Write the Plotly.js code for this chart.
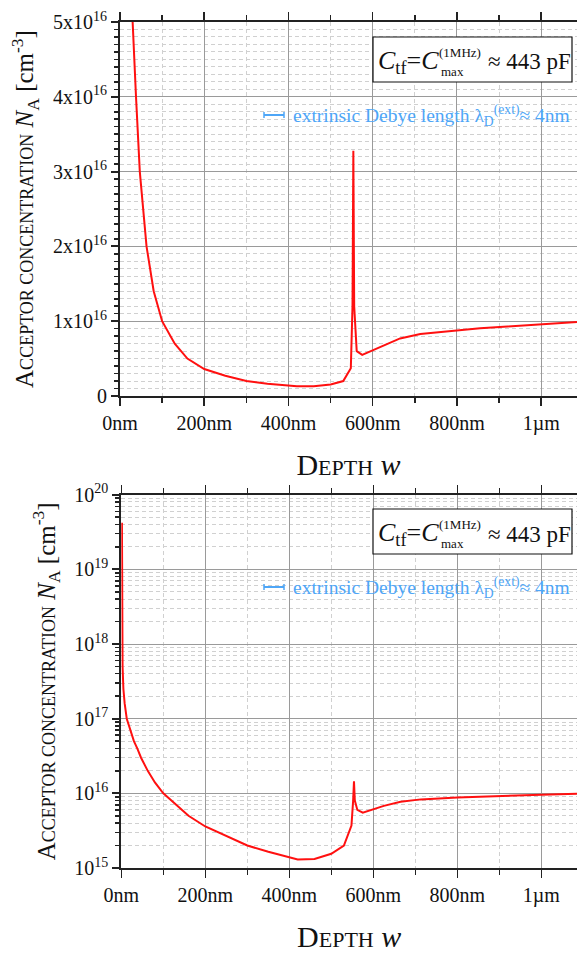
<!DOCTYPE html>
<html>
<head>
<meta charset="utf-8">
<script src="https://cdn.plot.ly/plotly-3.0.1.min.js"></script>
<style>
  html, body { margin: 0; padding: 0; background: #fff; }
  #plot { width: 577px; height: 956px; }
</style>
</head>
<body>
<div id="plot"></div>
<script>
// Acceptor profile from C-V measurement: depth (nm) vs. N_A (cm^-3)
const depthNm = [1.5, 2, 3, 5, 8, 13, 20, 30, 38, 47, 63, 80, 100, 130, 160, 200, 250, 300, 350, 400, 420, 460, 500, 530, 548, 552, 554, 556, 562, 575, 600, 625, 665, 713, 800, 855, 920, 1000, 1085];
// linear panel
const acceptorConc = [4.2e19, 1.5e18, 5e17, 2.5e17, 1.6e17, 1.0e17, 7.5e16, 5.0e16, 4.0e16, 3.0e16, 2.0e16, 1.4e16, 1.0e16, 7.0e15, 5.0e15, 3.6e15, 2.7e15, 2.0e15, 1.65e15, 1.4e15, 1.3e15, 1.32e15, 1.55e15, 2.0e15, 3.7e15, 1.2e16, 3.28e16, 1.2e16, 6.0e15, 5.5e15, 6.1e15, 6.8e15, 7.7e15, 8.3e15, 8.8e15, 9.05e15, 9.3e15, 9.6e15, 9.9e15];
// logarithmic panel
const acceptorConcLog = [4.2e19, 1.5e18, 5e17, 2.5e17, 1.6e17, 1.0e17, 7.5e16, 5.0e16, 4.0e16, 3.0e16, 2.0e16, 1.4e16, 1.0e16, 7.0e15, 5.0e15, 3.6e15, 2.7e15, 2.0e15, 1.65e15, 1.4e15, 1.3e15, 1.32e15, 1.55e15, 2.0e15, 3.7e15, 8.0e15, 1.45e16, 8.0e15, 6.0e15, 5.5e15, 6.1e15, 6.8e15, 7.7e15, 8.3e15, 8.8e15, 9.05e15, 9.3e15, 9.6e15, 9.9e15];

// Axis tick labels
const xTickVals = [0, 200, 400, 600, 800, 1000];
const xTickText = ['0nm', '200nm', '400nm', '600nm', '800nm', '1µm'];
const linTickVals = [0, 1e16, 2e16, 3e16, 4e16, 5e16];
const linTickText = ['0', '1x10<sup>16</sup>', '2x10<sup>16</sup>', '3x10<sup>16</sup>', '4x10<sup>16</sup>', '5x10<sup>16</sup>'];
const logTickVals = [1e15, 1e16, 1e17, 1e18, 1e19, 1e20];
const logTickText = ['10<sup>15</sup>', '10<sup>16</sup>', '10<sup>17</sup>', '10<sup>18</sup>', '10<sup>19</sup>', '10<sup>20</sup>'];

// Text
const capLabel = '≈ 443 pF';
const debyeLabel = 'extrinsic Debye length λ<sub>D</sub><sup>(ext)</sup>≈ 4nm';

const FONT = 'Liberation Serif';
const BLUE = '#4ea6f7';
const W = 577, H = 956;
const M = {l: 120, r: 0, t: 22, b: 88};
const PW = W - M.l - M.r, PH = H - M.t - M.b;
const px = v => (v - M.l) / PW;     // page px -> paper x
const py = v => (H - M.b - v) / PH; // page px -> paper y

// minor ticks for the log panel (2..9 per decade)
const logMinor = [];
for (let e = 15; e < 20; e++) for (let k = 2; k <= 9; k++) logMinor.push(k * Math.pow(10, e));

const yTitle = 'A<span style="font-size:18px">CCEPTOR CONCENTRATION</span> <i>N</i><sub>A</sub> [cm<sup>-3</sup>]';
const xTitle = 'D<span style="font-size:22px">EPTH</span> <i>w</i>';

const gridMajor = '#9a9a9a', gridMinor = '#d0d0d0', minorDash = '4px,3px';
const tickFont = {family: FONT, size: 20, color: '#111'};

function xAxis(domainStart, anchor) {
  return {
    domain: [domainStart, 1], anchor: anchor, range: [0, 1085],
    tickmode: 'array', tickvals: xTickVals, ticktext: xTickText,
    ticks: 'outside', ticklen: 8, tickwidth: 1.5, tickcolor: '#222',
    showline: true, linecolor: '#222', linewidth: 2, mirror: 'ticks',
    showgrid: true, gridcolor: gridMajor, gridwidth: 1, zeroline: false,
    minor: {tickmode: 'linear', tick0: 0, dtick: 100, ticks: 'outside', ticklen: 5,
            tickwidth: 1.5, tickcolor: '#222', showgrid: true, gridcolor: gridMinor, griddash: minorDash, gridwidth: 1},
    tickfont: tickFont,
    title: {text: xTitle, font: {family: FONT, size: 30, color: '#111'}, standoff: 20}
  };
}

const traceStyle = {mode: 'lines', line: {color: '#ff1010', width: 2}, hoverinfo: 'skip', showlegend: false};

const data = [
  Object.assign({x: depthNm, y: acceptorConc, xaxis: 'x', yaxis: 'y'}, traceStyle),
  Object.assign({x: depthNm, y: acceptorConcLog, xaxis: 'x2', yaxis: 'y2'}, traceStyle)
];

function legendBox(top) {
  const shapes = [
    {type: 'rect', xref: 'paper', yref: 'paper', x0: px(373), x1: px(572), y0: py(top), y1: py(top + 45),
     line: {color: '#111', width: 1.2}, fillcolor: '#fff', layer: 'above'},
    // scale marker of the Debye-length note
    {type: 'line', xref: 'paper', yref: 'paper', x0: px(264), x1: px(284), y0: py(top + 78), y1: py(top + 78), line: {color: BLUE, width: 2}},
    {type: 'line', xref: 'paper', yref: 'paper', x0: px(264), x1: px(264), y0: py(top + 75), y1: py(top + 81), line: {color: BLUE, width: 1.5}},
    {type: 'line', xref: 'paper', yref: 'paper', x0: px(284), x1: px(284), y0: py(top + 75), y1: py(top + 81), line: {color: BLUE, width: 1.5}}
  ];
  const fs = {family: FONT, size: 13, color: '#111'};
  const ann = [
    {xref: 'paper', yref: 'paper', x: px(376), y: py(top + 25), xanchor: 'left', yanchor: 'middle', showarrow: false,
     text: '<i>C</i><sub>tf</sub>=<i>C</i>', font: {family: FONT, size: 26, color: '#111'}},
    {xref: 'paper', yref: 'paper', x: px(437), y: py(top + 15), xanchor: 'left', yanchor: 'middle', showarrow: false,
     text: '(1MHz)', font: fs},
    {xref: 'paper', yref: 'paper', x: px(439), y: py(top + 34), xanchor: 'left', yanchor: 'middle', showarrow: false,
     text: 'max', font: fs},
    {xref: 'paper', yref: 'paper', x: px(486), y: py(top + 25), xanchor: 'left', yanchor: 'middle', showarrow: false,
     text: capLabel, font: {family: FONT, size: 23, color: '#111'}},
    {xref: 'paper', yref: 'paper', x: px(291), y: py(top + 78), xanchor: 'left', yanchor: 'middle', showarrow: false,
     text: debyeLabel, font: {family: FONT, size: 19.5, color: BLUE}}
  ];
  return {shapes, ann};
}

const topBox = legendBox(37);
const botBox = legendBox(509);

function yAxisBase() {
  return {
    ticks: 'outside', ticklen: 7, tickwidth: 2, tickcolor: '#222',
    showline: true, linecolor: '#222', linewidth: 2, mirror: false,
    showgrid: true, gridcolor: gridMajor, gridwidth: 1, zeroline: false,
    tickfont: tickFont,
    title: {text: yTitle, font: {family: FONT, size: 25, color: '#111'}, standoff: 12}
  };
}

const layout = {
  width: W, height: H,
  margin: M,
  paper_bgcolor: '#fff', plot_bgcolor: '#fff',
  font: {family: FONT, size: 20, color: '#111'},
  showlegend: false,
  xaxis: xAxis(0, 'y'),
  xaxis2: xAxis(1.3 / PW, 'y2'),
  yaxis: Object.assign(yAxisBase(), {
    domain: [py(396), 1], anchor: 'x', range: [0, 5e16],
    tickmode: 'array', tickvals: linTickVals, ticktext: linTickText,
    minor: {tickmode: 'linear', tick0: 0, dtick: 1e15, ticks: 'outside', ticklen: 4, tickwidth: 1.5,
            tickcolor: '#222', showgrid: true, gridcolor: gridMinor, griddash: minorDash, gridwidth: 1}
  }),
  yaxis2: Object.assign(yAxisBase(), {
    domain: [0, py(494.7)], anchor: 'x2', type: 'log', range: [15, 20],
    tickmode: 'array', tickvals: logTickVals, ticktext: logTickText,
    minor: {tickmode: 'array', tickvals: logMinor, ticks: 'outside', ticklen: 4, tickwidth: 1.5,
            tickcolor: '#222', showgrid: true, gridcolor: gridMinor, griddash: minorDash, gridwidth: 1}
  }),
  shapes: topBox.shapes.concat(botBox.shapes),
  annotations: topBox.ann.concat(botBox.ann)
};

Plotly.newPlot('plot', data, layout, {staticPlot: true, displayModeBar: false});
</script>
</body>
</html>
